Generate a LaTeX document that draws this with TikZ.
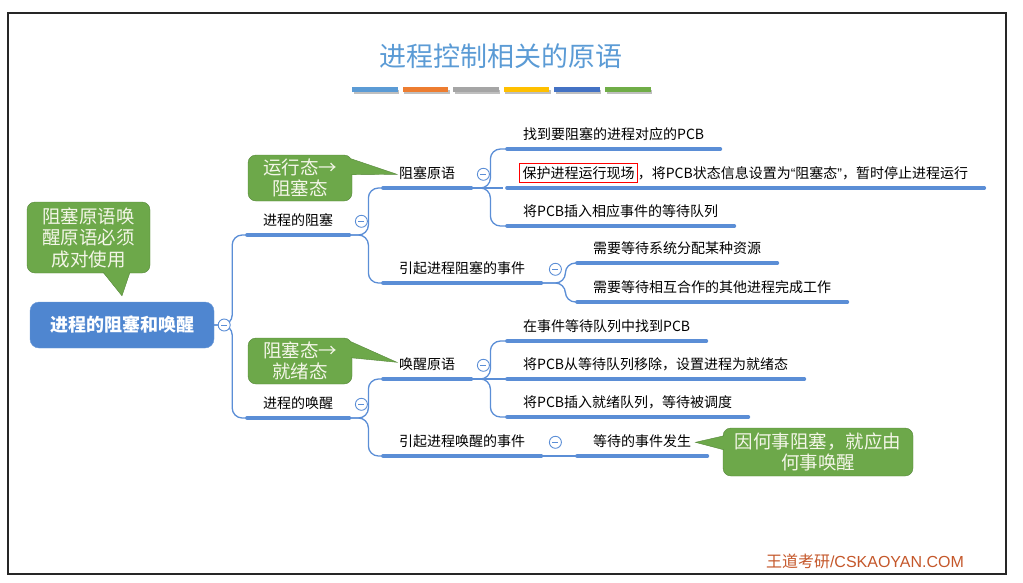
\documentclass[tikz,border=0pt]{standalone}
\usepackage{fontspec}
\setmainfont{Noto Sans CJK SC}
\newfontfamily\latinsans{Liberation Sans}
\usetikzlibrary{positioning}

\definecolor{lineblue}{HTML}{5B8ED6}
\definecolor{rootblue}{HTML}{4F86D0}
\definecolor{titleblue}{HTML}{5B9BD5}
\definecolor{notegreen}{HTML}{6DA84A}
\definecolor{noteedge}{HTML}{55863A}
\definecolor{notetext}{HTML}{F4F6E8}
\definecolor{markbrown}{HTML}{C4572A}
\definecolor{barblue}{HTML}{5B9BD5}
\definecolor{barorange}{HTML}{ED7D31}
\definecolor{bargray}{HTML}{A5A5A5}
\definecolor{bargold}{HTML}{FFC000}
\definecolor{bardark}{HTML}{4472C4}
\definecolor{bargreen}{HTML}{70AD47}

\setlength{\fboxsep}{2.5pt}
\setlength{\fboxrule}{0.8pt}

\begin{document}
\begin{tikzpicture}[
  x=1pt, y=-1pt,
  every node/.style={font=\fontsize{14}{16}\selectfont},
  topic/.style={anchor=south west, inner xsep=16pt, inner ysep=6.5pt, text height=11pt, text depth=3pt},
  rootbox/.style={rectangle, rounded corners=9pt, fill=rootblue, draw=rootblue!85!white, text=white,
    minimum width=184pt, minimum height=46pt, font=\bfseries\fontsize{18}{20}\selectfont},
  note/.style={rectangle, rounded corners=8pt, fill=notegreen, draw=noteedge, text=notetext, align=center,
    inner sep=2pt, font=\fontsize{18.5}{21.5}\selectfont},
  tail/.style={fill=notegreen, draw=noteedge, line join=miter},
  uline/.style={draw=lineblue, line width=3.6pt, line cap=round},
  branch/.style={draw=lineblue, line width=1.3pt, rounded corners=10pt},
  fold/.style={circle, draw=lineblue, line width=0.9pt, fill=white, minimum size=12pt, inner sep=0pt,
    path picture={\draw[lineblue, line width=0.9pt] ([xshift=-3pt]path picture bounding box.center)
      -- ([xshift=3pt]path picture bounding box.center);}}
]
\useasboundingbox (0,0) rectangle (1023,582);

% Slide frame
\draw[black!30, line width=2.6pt] (8,13) rectangle (1006,574);
\draw[black!85, line width=1.3pt] (8,13) rectangle (1006,574);

% Title and colour bars
\node[font=\fontsize{27}{30}\selectfont, text=titleblue] (title) at (501,56) {进程控制相关的原语};
\foreach \c [count=\i from 0] in {barblue,barorange,bargray,bargold,bardark,bargreen} {
  \fill[black!25] (353.5+50.6*\i,89.5) rectangle ++(45.5,4);
  \fill[\c] (352+50.6*\i,87.3) rectangle ++(45.5,4.4);
}

% Topics
\node[rootbox] (root) at (122,325) {进程的阻塞和唤醒};
\node[topic] (blk) at (247,235) {进程的阻塞};
\node[topic] (wak) at (247,418) {进程的唤醒};

\node[topic] (blkprim) at (383,188) {阻塞原语};
\node[topic] (blkcause) at (383,283) {引起进程阻塞的事件};
\node[topic] (wakprim) at (383,379) {唤醒原语};
\node[topic] (wakcause) at (383,456) {引起进程唤醒的事件};

\node[topic] (blkfind) at (507,149) {找到要阻塞的进程对应的PCB};
\node[topic] (blksave) at (503,188) {\fcolorbox{red}{white}{保护进程运行现场}，将PCB状态信息设置为{\latinsans “}阻塞态{\latinsans ”}，暂时停止进程运行};
\node[topic] (blkqueue) at (507,226) {将PCB插入相应事件的等待队列};
\node[topic] (needres) at (577,263) {需要等待系统分配某种资源};
\node[topic] (needpeer) at (577,302) {需要等待相互合作的其他进程完成工作};

\node[topic] (wakfind) at (507,341) {在事件等待队列中找到PCB};
\node[topic] (wakmove) at (507,379) {将PCB从等待队列移除，设置进程为就绪态};
\node[topic] (wakready) at (507,417) {将PCB插入就绪队列，等待被调度};
\node[topic] (evdone) at (577,456) {等待的事件发生};

% Branches
\draw[branch] (root.east) -- ++(18,0) |- (blk.south west);
\draw[branch] (root.east) -- ++(18,0) |- (wak.south west);
\draw[branch] (blk.south east) -- ++(19,0) |- (blkprim.south west);
\draw[branch] (blk.south east) -- ++(19,0) |- (blkcause.south west);
\draw[branch] (wak.south east) -- ++(19,0) |- (wakprim.south west);
\draw[branch] (wak.south east) -- ++(19,0) |- (wakcause.south west);
\draw[branch] (blkprim.south east) -- ++(19,0) |- (blkfind.south west);
\draw[branch] (blkprim.south east) -- (blksave.south west);
\draw[branch] (blkprim.south east) -- ++(19,0) |- (blkqueue.south west);
\draw[branch] (blkcause.south east) -- ++(24,0) |- (needres.south west);
\draw[branch] (blkcause.south east) -- ++(24,0) |- (needpeer.south west);
\draw[branch] (wakprim.south east) -- ++(19,0) |- (wakfind.south west);
\draw[branch] (wakprim.south east) -- (wakmove.south west);
\draw[branch] (wakprim.south east) -- ++(19,0) |- (wakready.south west);
\draw[branch] (wakcause.south east) -- (evdone.south west);

% Underlines
\foreach \n in {blk,wak,blkprim,blkcause,wakprim,wakcause,blkfind,blkqueue,
  needres,needpeer,wakfind,wakmove,wakready,evdone}
  \draw[uline] (\n.south west) -- (\n.south east);
\draw[uline] ([xshift=4pt]blksave.south west) -- (blksave.south east);

% Fold markers
\node[fold] (rootfold) at ([xshift=10pt]root.east) {};
\foreach \n/\d in {blk/12,wak/12,blkprim/12,wakprim/12,blkcause/14,wakcause/14}
  \node[fold] (\n fold) at ([xshift=\d pt]\n.east) {};

% Callouts
\node[note, minimum width=123pt, minimum height=71pt] (pairnote) at (88.5,237.5) {阻塞原语唤\\醒原语必须\\成对使用};
\filldraw[tail] ([xshift=14.5pt,yshift=1pt]pairnote.south) -- ([yshift=6pt]root.north) -- ([xshift=41.5pt,yshift=1pt]pairnote.south);

\node[note, minimum width=104pt, minimum height=46pt] (runnote) at (300,178) {运行态→\\阻塞态};
\filldraw[tail] ([xshift=-1pt,yshift=-4pt]runnote.north east) -- ([xshift=14pt]blkprim.west) -- ([xshift=-1pt,yshift=-20pt]runnote.north east);

\node[note, minimum width=104pt, minimum height=46pt] (readynote) at (300,361) {阻塞态→\\就绪态};
\filldraw[tail] ([xshift=-1pt,yshift=-4pt]readynote.north east) -- ([xshift=14pt,yshift=3pt]wakprim.west) -- ([xshift=-1pt,yshift=-20pt]readynote.north east);

\node[note, minimum width=190pt, minimum height=48pt, font=\fontsize{18.5}{20.5}\selectfont] (causenote) at (818,452) {因何事阻塞，就应由\\何事唤醒};
\filldraw[tail] ([xshift=1pt,yshift=-8pt]causenote.north west) -- ([xshift=-12pt]evdone.east) -- ([xshift=1pt,yshift=-22pt]causenote.north west);

% Watermark
\node[font=\fontsize{16}{18}\selectfont, text=markbrown] (mark) at (865,561) {王道考研{\latinsans /CSKAOYAN.COM}};
\end{tikzpicture}
\end{document}
